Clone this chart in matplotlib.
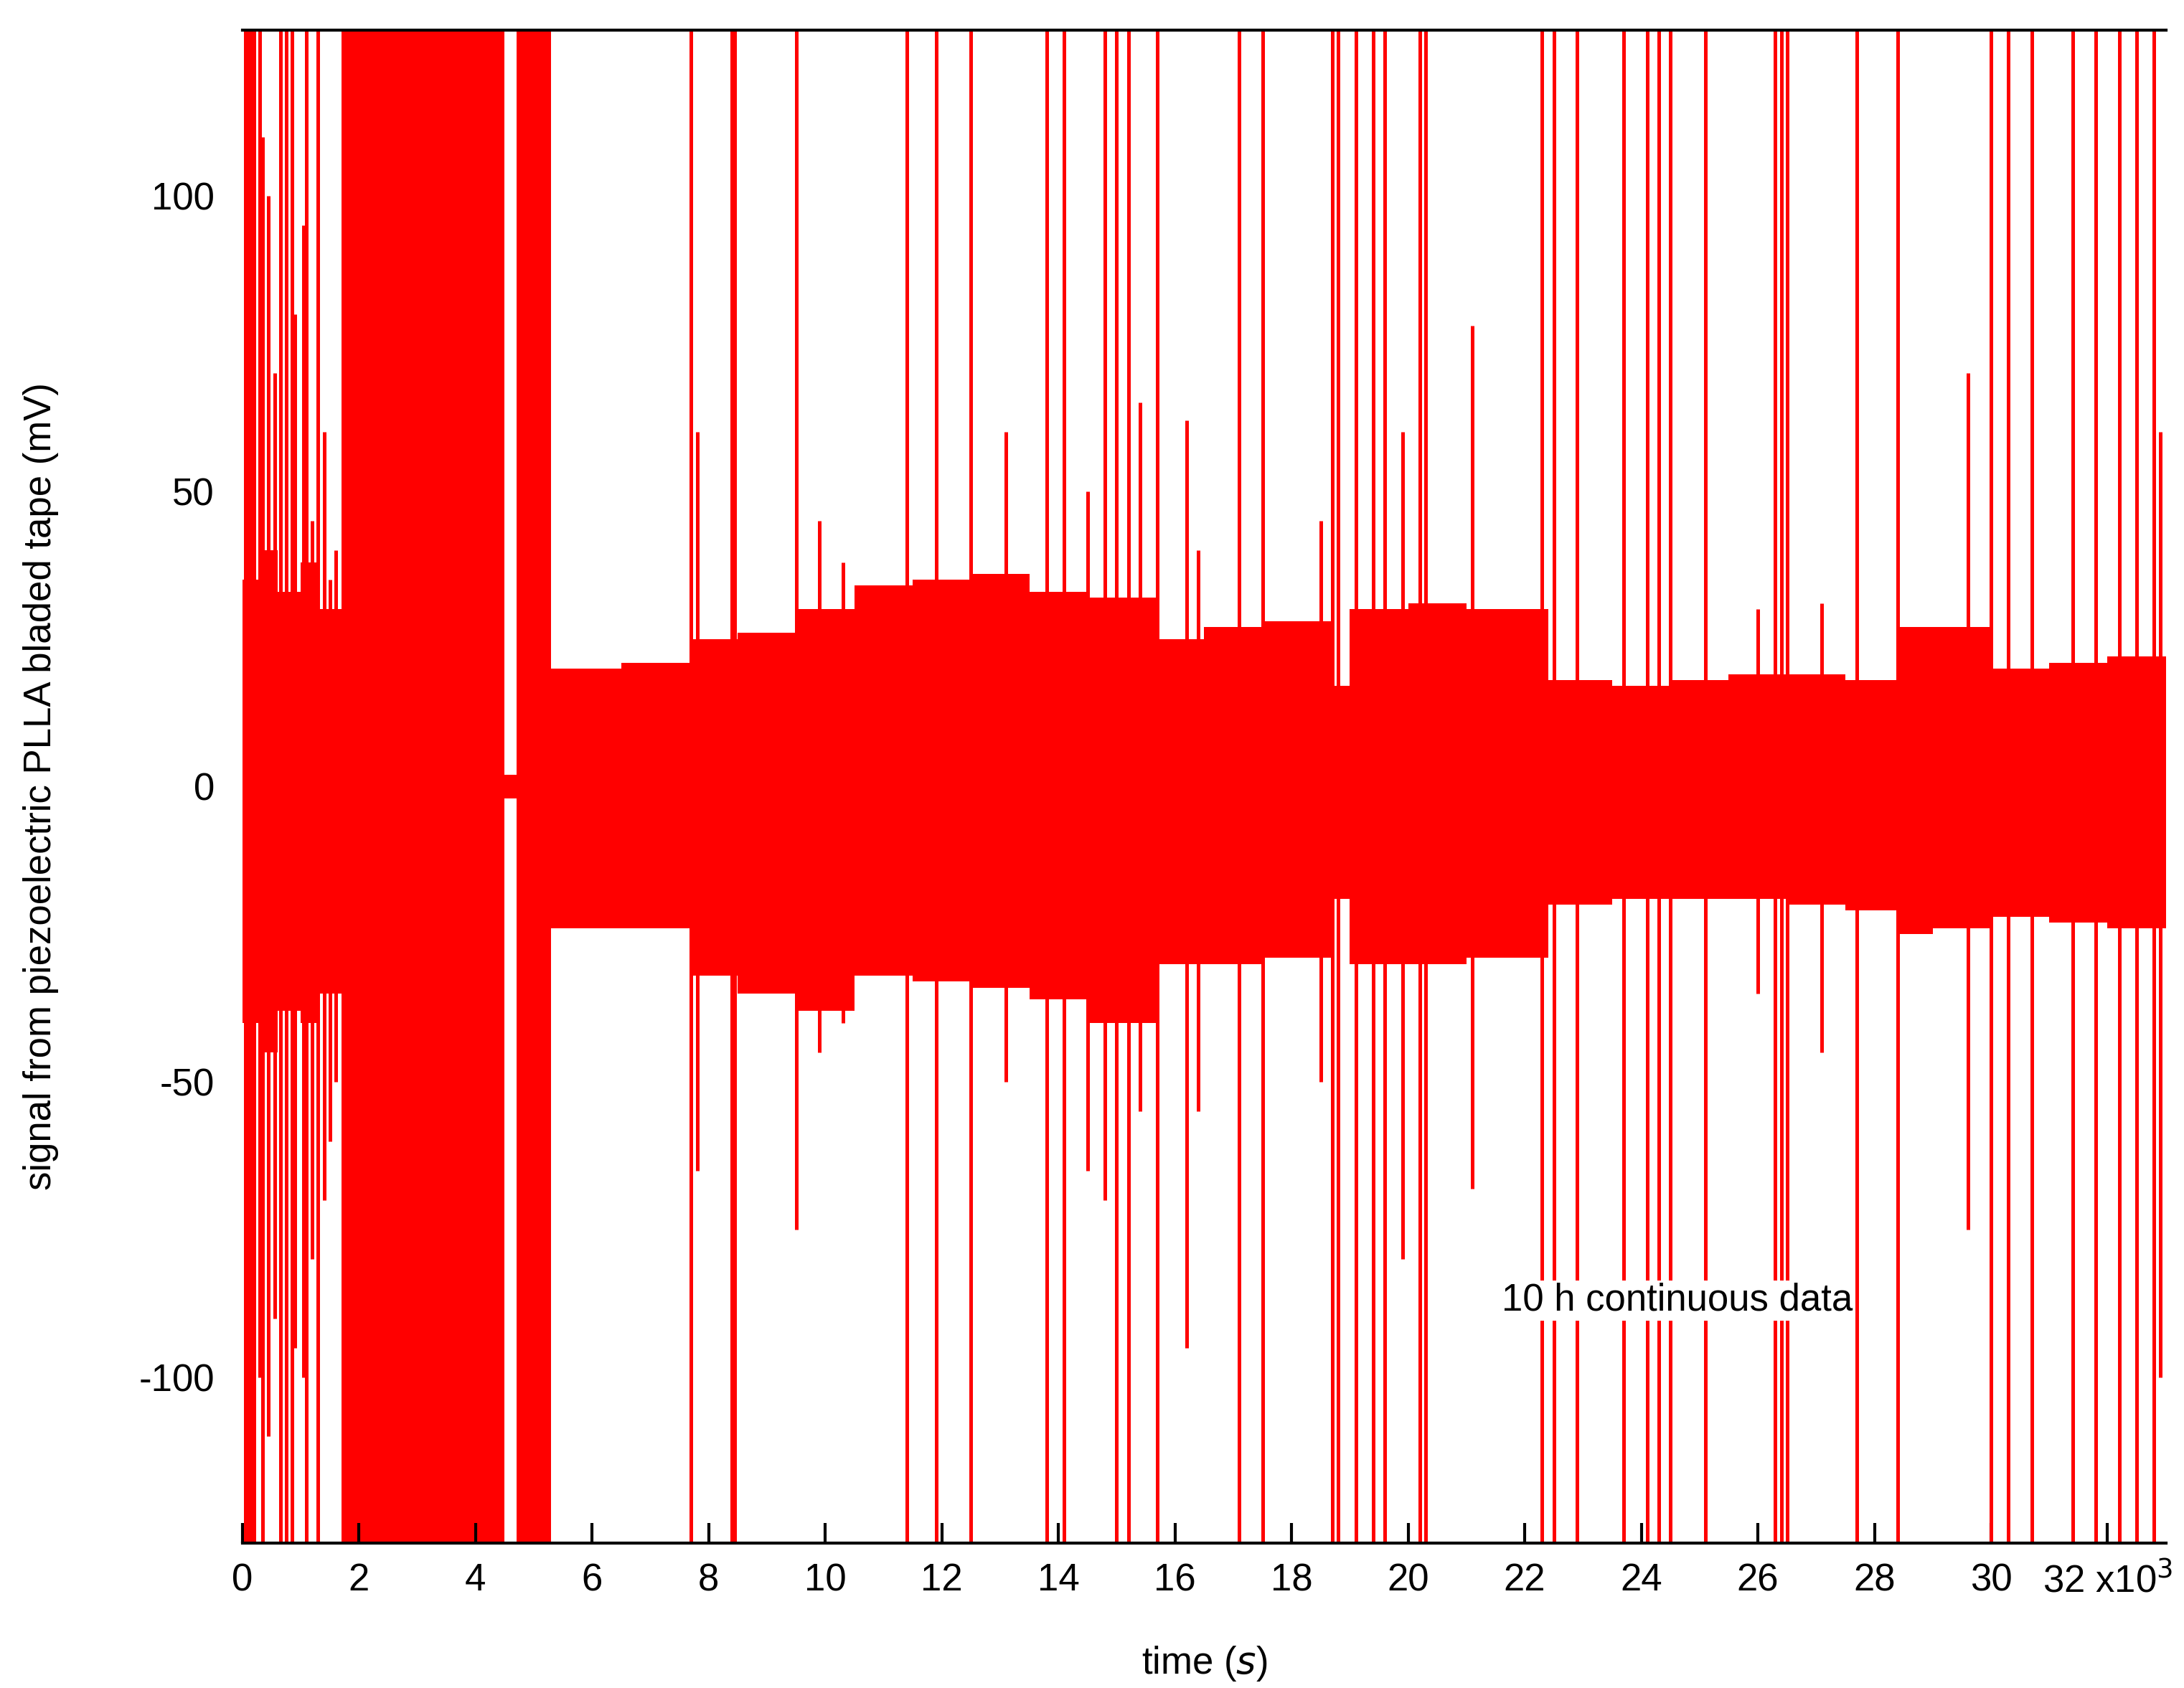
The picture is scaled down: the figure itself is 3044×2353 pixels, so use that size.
import matplotlib
matplotlib.use("Agg")
import matplotlib.pyplot as plt
import numpy as np

plt.rcParams['font.family'] = ['Liberation Sans', 'DejaVu Sans']
plt.rcParams['axes.unicode_minus'] = False

# envelope of the dense signal (time in 10^3 s, upper/lower mV), piecewise constant
env_t     = [0, 0.3, 0.6, 1.0, 1.3, 1.7, 4.5, 4.7, 5.3, 6.5, 7.7, 8.5, 9.5, 10.5, 11.5, 12.5, 13.5, 14.5, 15.7, 16.5, 17.5, 18.7, 19.0, 20.0, 21.0, 22.4, 23.5, 24.5, 25.5, 26.5, 27.5, 28.4, 29.0, 30.0, 31.0, 32.0, 33.0]
env_upper = [35, 40, 33, 38, 30, 128, 2, 128, 20, 21, 25, 26, 30, 34, 35, 36, 33, 32, 25, 27, 28, 17, 30, 31, 30, 18, 17, 18, 19, 19, 18, 27, 27, 20, 21, 22, 22]
env_lower = [-40, -45, -38, -40, -35, -128, -2, -128, -24, -24, -32, -35, -38, -32, -33, -34, -36, -40, -30, -30, -29, -19, -30, -30, -29, -20, -19, -19, -19, -20, -21, -25, -24, -22, -23, -24, -24]

# spikes: time (10^3 s), top (mV), bottom (mV)
spk_t   = [0.05, 0.1, 0.15, 0.2, 0.3, 0.35, 0.45, 0.55, 0.65, 0.75, 0.85, 0.9, 1.05, 1.1, 1.2, 1.3, 1.4, 1.5, 1.6, 7.7, 7.8, 8.4, 8.45, 9.5, 9.9, 10.3, 11.4, 11.9, 12.5, 13.1, 13.8, 14.1, 14.5, 14.8, 15.0, 15.2, 15.4, 15.7, 16.2, 16.4, 17.1, 17.5, 18.5, 18.7, 18.8, 19.1, 19.4, 19.6, 19.9, 20.2, 20.3, 21.1, 22.3, 22.5, 22.9, 23.7, 24.1, 24.3, 24.5, 25.1, 26.0, 26.3, 26.4, 26.5, 27.1, 27.7, 28.4, 29.6, 30.0, 30.3, 30.7, 31.4, 31.8, 32.2, 32.5, 32.8, 32.9]
spk_top = [128, 128, 128, 128, 128, 110, 100, 70, 128, 128, 128, 80, 95, 128, 45, 128, 60, 35, 40, 128, 60, 128, 128, 128, 45, 38, 128, 128, 128, 60, 128, 128, 50, 128, 128, 128, 65, 128, 62, 40, 128, 128, 45, 128, 128, 128, 128, 128, 60, 128, 128, 78, 128, 128, 128, 128, 128, 128, 128, 128, 30, 128, 128, 128, 31, 128, 128, 70, 128, 128, 128, 128, 128, 128, 128, 128, 60]
spk_bot = [-128, -128, -128, -128, -100, -128, -110, -90, -128, -128, -128, -95, -100, -128, -80, -128, -70, -60, -50, -128, -65, -128, -128, -75, -45, -40, -128, -128, -128, -50, -128, -128, -65, -70, -128, -128, -55, -128, -95, -55, -128, -128, -50, -128, -128, -128, -128, -128, -80, -128, -128, -68, -128, -128, -128, -128, -128, -128, -128, -128, -35, -128, -128, -128, -45, -128, -128, -75, -128, -128, -128, -128, -128, -128, -128, -128, -100]

xticks = [0, 2, 4, 6, 8, 10, 12, 14, 16, 18, 20, 22, 24, 26, 28, 30, 32]
yticks = [-100, -50, 0, 50, 100]

fig = plt.figure(figsize=(15.22, 11.765), dpi=200)
ax = fig.add_axes([0.111, 0.086, 0.8807, 0.896])
red = '#ff0000'
t = np.array(env_t) * 1000
ax.fill_between(t, env_lower, env_upper, color=red, lw=0, step='post')
ax.vlines(np.array(spk_t) * 1000, spk_bot, spk_top, color=red, lw=1.8)

ax.set_xlim(0, 33000)
ax.set_ylim(-128, 128)
ax.set_xticks(np.array(xticks) * 1000)
ax.set_xticklabels([str(v) for v in xticks[:-1]] + ['32 x10$^3$'])
ax.set_yticks(yticks)
ax.tick_params(axis='x', direction='in', length=10, width=1.5, labelsize=19, pad=10)
ax.tick_params(axis='y', length=0, labelsize=19, pad=14)
for s in ['left', 'right']:
    ax.spines[s].set_visible(False)
for s in ['top', 'bottom']:
    ax.spines[s].set_linewidth(1.5)
ax.set_xlabel('time ($s$)', fontsize=19, labelpad=22)
ax.set_ylabel('signal from piezoelectric PLLA bladed tape (mV)', fontsize=19, labelpad=40)
ax.text(21600, -87, '10 h continuous data', fontsize=19, va='center',
        bbox=dict(facecolor='white', edgecolor='none', pad=1))
fig.savefig('out.png', dpi=200)
